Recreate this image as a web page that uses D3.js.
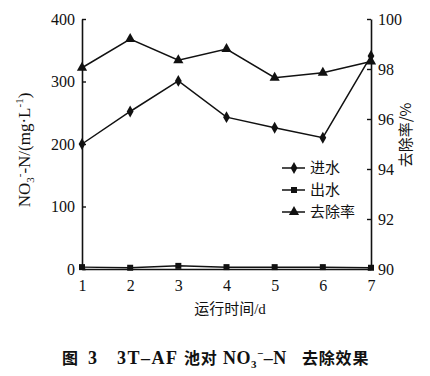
<!DOCTYPE html>
<html>
<head>
<meta charset="utf-8">
<script src="https://cdn.jsdelivr.net/npm/d3@7"></script>
<style>
  body { margin: 0; background: #fff; }
  text { fill: #111; }
</style>
</head>
<body>
<script>
// ----------------------------------------
//  Data
// ----------------------------------------
var days = [1, 2, 3, 4, 5, 6, 7];
var inflow = [200, 252, 301, 243, 226, 210, 341];     // 进水, mg/L
var outflow = [3, 2, 5, 3, 3, 3, 2];                  // 出水, mg/L
var removal = [98.05, 99.2, 98.35, 98.8, 97.65, 97.85, 98.3]; // 去除率, %
var leftTicks = [0, 100, 200, 300, 400];
var rightTicks = [90, 92, 94, 96, 98, 100];

var W = 430, H = 376;
var margin = {top: 19, right: 59, bottom: 107, left: 82};
var width = W - margin.left - margin.right;
var height = H - margin.top - margin.bottom;

var serif = "'Liberation Serif', 'Times New Roman', serif";
var cjk = "'Liberation Serif', 'Noto Sans CJK SC', serif";

// ----------------------------------------
//  Scales
// ----------------------------------------
var x = d3.scaleLinear().domain([1, 7]).range([0, width]);
var yL = d3.scaleLinear().domain([0, 400]).range([height, 0]);
var yR = d3.scaleLinear().domain([90, 100]).range([height, 0]);

var svg = d3.select("body").append("svg")
    .attr("width", W)
    .attr("height", H);

var g = svg.append("g")
    .attr("transform", "translate(" + margin.left + "," + margin.top + ")");

// ----------------------------------------
//  Axes
// ----------------------------------------
var axL = g.append("g")
    .call(d3.axisLeft(yL).tickValues(leftTicks).tickSizeInner(-4).tickSizeOuter(0).tickPadding(7));
var axR = g.append("g")
    .attr("transform", "translate(" + width + ",0)")
    .call(d3.axisRight(yR).tickValues(rightTicks).tickSizeInner(-4).tickSizeOuter(0).tickPadding(7));
var axB = g.append("g")
    .attr("transform", "translate(0," + height + ")")
    .call(d3.axisBottom(x).tickValues(days).tickFormat(d3.format("d")).tickSize(0).tickPadding(10));

[axL, axR, axB].forEach(function(a) {
  a.select(".domain").attr("stroke", "#111").attr("stroke-width", 1.6);
  a.selectAll(".tick line").attr("stroke", "#111").attr("stroke-width", 1.4);
  a.selectAll(".tick text")
    .attr("font-family", serif)
    .attr("font-size", 16)
    .attr("fill", "#111");
});
axB.selectAll(".tick text").attr("dy", "0.72em");

// ----------------------------------------
//  Lines & markers
// ----------------------------------------
function drawSeries(vals, yScale, symbolType, size) {
  var line = d3.line()
      .x(function(d, i) { return x(days[i]); })
      .y(function(d) { return yScale(d); });
  g.append("path")
      .datum(vals)
      .attr("fill", "none")
      .attr("stroke", "#111")
      .attr("stroke-width", 1.5)
      .attr("d", line);
  g.selectAll(null)
      .data(vals)
      .enter()
      .append("path")
      .attr("transform", function(d, i) { return "translate(" + x(days[i]) + "," + yScale(d) + ")"; })
      .attr("d", d3.symbol().type(symbolType).size(size))
      .attr("fill", "#111");
}

drawSeries(outflow, yL, d3.symbolSquare, 36);
drawSeries(inflow, yL, d3.symbolDiamond, 40);
drawSeries(removal, yR, d3.symbolTriangle, 45);

// ----------------------------------------
//  Legend
// ----------------------------------------
var legend = [
  {name: "进水", sym: d3.symbolDiamond, size: 40},
  {name: "出水", sym: d3.symbolSquare, size: 36},
  {name: "去除率", sym: d3.symbolTriangle, size: 45}
];
var lg = svg.append("g").attr("transform", "translate(282,168)");
legend.forEach(function(d, i) {
  var row = lg.append("g").attr("transform", "translate(0," + (i * 22) + ")");
  row.append("line").attr("x1", 0).attr("x2", 23).attr("y1", 0).attr("y2", 0)
      .attr("stroke", "#111").attr("stroke-width", 1.5);
  row.append("path").attr("transform", "translate(12,0)")
      .attr("d", d3.symbol().type(d.sym).size(d.size)).attr("fill", "#111");
  row.append("text").attr("x", 28).attr("y", 5)
      .attr("font-family", "'Noto Sans CJK SC', sans-serif")
      .attr("font-size", 15)
      .text(d.name);
});

// ----------------------------------------
//  Titles
// ----------------------------------------
var yl = svg.append("text")
    .attr("transform", "translate(30,150) rotate(-90)")
    .attr("text-anchor", "middle")
    .attr("font-family", serif)
    .attr("font-size", 17);
yl.append("tspan").text("NO");
yl.append("tspan").attr("font-size", 11).attr("dy", 4).text("3");
yl.append("tspan").attr("font-size", 11).attr("dy", -11).text("-");
yl.append("tspan").attr("dy", 7).text("-N/(mg·L");
yl.append("tspan").attr("font-size", 11).attr("dy", -7).text("-1");
yl.append("tspan").attr("dy", 7).text(")");

svg.append("text")
    .attr("transform", "translate(411,135) rotate(-90)")
    .attr("text-anchor", "middle")
    .attr("font-family", "'Noto Sans CJK SC', sans-serif")
    .attr("font-size", 15)
    .text("去除率/%");

svg.append("text")
    .attr("x", 230).attr("y", 314)
    .attr("text-anchor", "middle")
    .attr("font-family", cjk)
    .attr("font-size", 15)
    .text("运行时间/d");

// caption, laid out in pieces like the original typesetting
var capParts = [
  {t: "图", x: 62, cjk: true},
  {t: "3", x: 88},
  {t: "3T–AF", x: 117},
  {t: "池对", x: 184, cjk: true},
  {t: "去除效果", x: 302, cjk: true}
];
capParts.forEach(function(p) {
  svg.append("text")
      .attr("x", p.x).attr("y", 364)
      .attr("font-family", p.cjk ? "'Noto Sans CJK SC', sans-serif" : serif)
      .attr("font-weight", "bold")
      .attr("font-size", p.cjk ? 16 : 18)
      .attr("letter-spacing", p.cjk ? 0.8 : 1.5)
      .text(p.t);
});
var cap = svg.append("text")
    .attr("x", 223).attr("y", 364)
    .attr("font-family", serif)
    .attr("font-weight", "bold")
    .attr("font-size", 18)
    .attr("letter-spacing", 0.5);
cap.append("tspan").text("NO");
cap.append("tspan").attr("font-size", 11).attr("dy", 4).text("3");
cap.append("tspan").attr("font-size", 11).attr("dy", -11).text("−");
cap.append("tspan").attr("dy", 7).text("–N");

console.log("End of Program");
</script>
</body>
</html>
